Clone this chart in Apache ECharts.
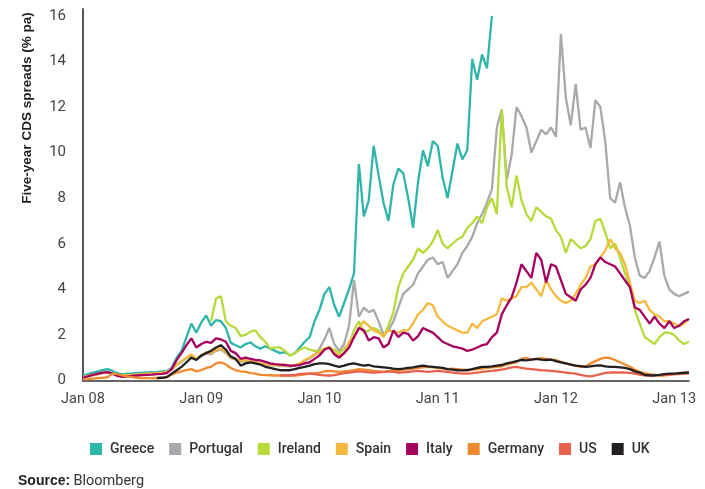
<!DOCTYPE html>
<html>
<head>
<meta charset="utf-8">
<script src="https://cdn.jsdelivr.net/npm/echarts@6/dist/echarts.min.js"></script>
<style>
  html, body { margin: 0; padding: 0; background: #fff; }
  #chart { width: 705px; height: 489px; }
</style>
</head>
<body>
<div id="chart"></div>
<script>
// Five-year sovereign CDS spreads, % per annum, sampled on the 1st and 16th of each month
// from Jan 2008 to Feb 2013.
const seriesNames = ['Greece', 'Portugal', 'Ireland', 'Spain', 'Italy', 'Germany', 'US', 'UK'];
const seriesColors = ['#2fb5a9', '#a8a8ad', '#b6da3a', '#f5ba3d', '#a6005f', '#ef8a2f', '#e9614d', '#231f20'];
const yTicks = [0, 2, 4, 6, 8, 10, 12, 14, 16];

// sample dates: 1st and 16th of each month, Jan 2008 - Feb 2013
const dates = [];
for (let y = 2008; y <= 2013; y++) {
  for (let m = 1; m <= 12; m++) {
    if (y === 2013 && m > 2) break;
    const mm = String(m).padStart(2, '0');
    dates.push(y + '-' + mm + '-01', y + '-' + mm + '-16');
  }
}

// series that begin later are padded with leading gaps
function startingAt(n, vals) { return new Array(n).fill(null).concat(vals); }

const greece = [
  0.22,0.28,0.35,0.40,0.46,0.50,0.42,0.32,0.27,0.30,
  0.31,0.33,0.34,0.36,0.37,0.38,0.40,0.42,0.55,1.00,
  1.30,1.90,2.50,2.10,2.55,2.85,2.40,2.65,2.60,2.30,
  1.65,1.55,1.45,1.60,1.67,1.50,1.40,1.50,1.40,1.30,
  1.20,1.25,1.10,1.20,1.45,1.70,1.90,2.60,3.10,3.80,
  4.10,3.30,2.80,3.40,4.00,4.70,9.50,7.20,7.90,10.30,
  9.00,7.80,7.00,8.60,9.30,9.10,8.00,6.70,8.70,10.10,
  9.40,10.50,10.30,8.90,8.00,9.20,10.40,9.70,10.10,14.10,
  13.20,14.30,13.70,16.00
];
const portugal = [
  0.15,0.20,0.24,0.27,0.32,0.34,0.29,0.24,0.21,0.23,
  0.24,0.26,0.27,0.29,0.30,0.32,0.34,0.37,0.48,0.68,
  0.82,0.98,1.12,0.92,1.05,1.20,1.15,1.30,1.35,1.20,
  0.98,0.92,0.82,0.86,0.82,0.78,0.73,0.70,0.68,0.66,
  0.63,0.64,0.61,0.66,0.72,0.86,0.98,1.12,1.40,1.80,
  2.30,1.60,1.30,1.60,2.40,4.40,2.80,3.20,3.00,3.10,
  2.60,2.00,2.20,2.60,3.20,3.80,4.00,4.20,4.70,5.00,
  5.30,5.40,5.10,5.20,4.50,4.80,5.10,5.60,5.90,6.30,
  6.90,7.30,7.80,8.40,11.10,11.90,8.80,9.90,12.00,11.60,
  11.10,10.00,10.50,11.00,10.80,11.10,10.70,15.20,12.40,11.20,
  13.00,11.00,11.10,10.20,12.30,12.00,10.50,8.00,7.80,8.70,
  7.60,6.80,5.40,4.60,4.50,4.80,5.40,6.10,4.60,4.00,
  3.80,3.70,3.80,3.90
];
const ireland = startingAt(26, [
  2.60,3.60,3.70,2.60,2.40,2.30,1.95,2.00,2.15,2.20,
  1.90,1.70,1.40,1.45,1.45,1.30,1.10,1.20,1.35,1.45,
  1.35,1.30,1.30,1.40,1.45,1.35,1.20,1.40,1.60,2.20,
  2.60,2.10,2.20,2.30,2.20,1.90,2.40,3.00,4.10,4.70,
  5.00,5.30,5.80,5.60,5.80,6.10,6.60,6.00,5.80,6.00,
  6.20,6.30,6.70,6.90,7.20,6.90,7.60,8.00,7.30,11.90,
  8.50,7.60,9.00,7.90,7.30,7.00,7.60,7.40,7.20,7.10,
  6.60,6.30,5.60,6.20,6.00,5.80,5.90,6.20,7.00,7.10,
  6.50,5.80,6.00,5.40,4.70,4.20,3.10,2.50,1.90,1.75,
  1.60,1.90,2.10,2.10,2.00,1.75,1.60,1.70
]);
const spain = [
  0.15,0.20,0.25,0.28,0.33,0.35,0.30,0.25,0.22,0.24,
  0.25,0.27,0.28,0.30,0.31,0.33,0.35,0.38,0.50,0.70,
  0.85,1.00,1.15,0.95,1.10,1.25,1.20,1.35,1.40,1.25,
  1.00,0.95,0.85,0.90,0.85,0.80,0.75,0.72,0.70,0.68,
  0.65,0.66,0.63,0.68,0.75,0.90,1.00,1.15,1.20,1.40,
  1.45,1.20,1.10,1.20,1.70,1.90,2.30,2.60,2.40,2.20,
  2.10,1.95,2.20,2.15,2.10,2.20,2.20,2.50,2.90,3.10,
  3.40,3.30,2.80,2.60,2.40,2.30,2.20,2.10,2.10,2.50,
  2.30,2.60,2.70,2.80,2.90,3.60,3.50,3.60,3.70,4.10,
  4.10,4.30,4.00,3.70,4.40,4.00,3.70,3.50,3.40,3.50,
  3.80,4.20,4.50,5.00,5.10,5.40,5.70,6.20,5.80,5.60,
  5.10,4.30,3.50,3.40,3.50,3.10,2.90,2.80,2.60,2.60,
  2.50,2.40,2.50,2.70
];
const italy = [
  0.12,0.18,0.25,0.30,0.35,0.37,0.30,0.20,0.16,0.18,
  0.20,0.22,0.24,0.25,0.26,0.28,0.29,0.32,0.50,0.90,
  1.20,1.55,1.85,1.45,1.60,1.70,1.65,1.85,1.80,1.70,
  1.30,1.20,0.95,1.00,0.95,0.90,0.88,0.82,0.75,0.72,
  0.70,0.68,0.65,0.65,0.68,0.75,0.80,0.95,1.10,1.35,
  1.45,1.15,1.00,1.20,1.45,1.90,2.30,2.20,1.75,1.90,
  1.85,1.45,1.60,2.20,1.90,2.10,2.05,1.75,1.95,2.30,
  2.20,2.10,1.90,1.70,1.60,1.50,1.45,1.40,1.30,1.35,
  1.45,1.55,1.60,1.90,2.10,2.90,3.30,3.65,4.30,5.10,
  4.80,4.50,5.60,5.30,4.30,5.10,5.00,4.40,3.80,3.65,
  3.50,4.00,4.20,4.50,5.10,5.40,5.20,5.10,5.00,4.70,
  4.40,4.10,3.20,3.10,2.80,2.50,2.80,2.50,2.30,2.60,
  2.30,2.40,2.60,2.70
];
const germany = [
  0.05,0.06,0.08,0.10,0.12,0.15,0.30,0.28,0.22,0.18,
  0.15,0.12,0.10,0.10,0.10,0.11,0.12,0.15,0.25,0.35,
  0.40,0.45,0.50,0.40,0.45,0.55,0.60,0.75,0.80,0.70,
  0.55,0.45,0.40,0.38,0.32,0.30,0.25,0.24,0.23,0.22,
  0.22,0.21,0.20,0.21,0.24,0.27,0.30,0.32,0.35,0.40,
  0.42,0.40,0.38,0.40,0.42,0.45,0.50,0.48,0.45,0.42,
  0.40,0.38,0.40,0.45,0.45,0.48,0.50,0.52,0.55,0.58,
  0.60,0.58,0.55,0.52,0.50,0.52,0.50,0.48,0.45,0.48,
  0.50,0.52,0.55,0.58,0.60,0.62,0.70,0.75,0.80,0.95,
  1.00,0.92,0.95,0.98,0.95,0.92,0.90,0.82,0.75,0.70,
  0.65,0.60,0.62,0.75,0.85,0.95,1.00,0.98,0.90,0.80,
  0.70,0.60,0.48,0.38,0.32,0.28,0.25,0.22,0.22,0.25,
  0.28,0.30,0.32,0.35
];
const us = startingAt(40, [
  0.22,0.24,0.23,0.25,0.28,0.30,0.30,0.28,0.25,0.23,
  0.22,0.24,0.28,0.32,0.35,0.38,0.40,0.38,0.36,0.35,
  0.36,0.38,0.40,0.38,0.35,0.36,0.38,0.40,0.42,0.40,
  0.38,0.40,0.42,0.40,0.38,0.35,0.32,0.30,0.30,0.32,
  0.35,0.38,0.40,0.42,0.45,0.48,0.52,0.58,0.60,0.55,
  0.52,0.50,0.48,0.45,0.44,0.42,0.40,0.38,0.35,0.32,
  0.30,0.25,0.20,0.18,0.22,0.28,0.33,0.35,0.36,0.35,
  0.35,0.33,0.30,0.26,0.22,0.22,0.22,0.24,0.25,0.26,
  0.28,0.28,0.30,0.30
]);
const uk = startingAt(15, [
  0.10,0.12,0.15,0.30,0.45,0.60,0.80,1.00,0.90,1.10,
  1.20,1.30,1.45,1.55,1.35,1.05,0.95,0.65,0.75,0.80,
  0.75,0.70,0.60,0.55,0.50,0.45,0.45,0.45,0.50,0.55,
  0.60,0.65,0.72,0.75,0.75,0.72,0.65,0.60,0.65,0.72,
  0.75,0.70,0.65,0.68,0.62,0.60,0.58,0.55,0.52,0.50,
  0.52,0.55,0.58,0.62,0.65,0.62,0.60,0.58,0.55,0.50,
  0.48,0.45,0.44,0.46,0.50,0.55,0.60,0.60,0.62,0.65,
  0.68,0.75,0.80,0.85,0.90,0.88,0.92,0.95,0.92,0.90,
  0.92,0.85,0.80,0.75,0.70,0.65,0.63,0.60,0.62,0.65,
  0.66,0.62,0.60,0.60,0.58,0.55,0.50,0.40,0.35,0.25,
  0.22,0.23,0.25,0.28,0.30,0.30,0.32,0.34,0.35
]);

const seriesValues = [greece, portugal, ireland, spain, italy, germany, us, uk];

const FONT = 'Roboto, "Liberation Sans", sans-serif';
const chart = echarts.init(document.getElementById('chart'), null, { renderer: 'canvas' });

chart.setOption({
  animation: false,
  backgroundColor: '#ffffff',
  color: seriesColors,
  grid: { left: 83, right: 16, top: 9, bottom: 108.5, containLabel: false },
  legend: {
    data: seriesNames,
    left: 85,
    top: 437,
    icon: 'rect',
    itemWidth: 12,
    itemHeight: 12,
    itemGap: 15,
    textStyle: { fontFamily: FONT, fontSize: 14, fontWeight: 500, color: '#333', padding: [0, 0, 0, 3] }
  },
  xAxis: {
    type: 'category',
    data: dates,
    boundaryGap: false,
    axisLine: { lineStyle: { color: '#333', width: 1.5 } },
    axisTick: { show: false },
    splitLine: { show: false },
    axisLabel: {
      interval: (idx, val) => val.endsWith('-01-01'),
      formatter: (val) => 'Jan ' + val.slice(2, 4),
      fontFamily: FONT,
      fontSize: 14.5,
      color: '#444',
      margin: 11,
      hideOverlap: false
    }
  },
  yAxis: {
    type: 'value',
    min: 0,
    max: 16.3,
    interval: 2,
    axisLine: { show: true, lineStyle: { color: '#555', width: 2 } },
    axisTick: { show: false },
    splitLine: { show: false },
    axisLabel: {
      formatter: (v) => (yTicks.indexOf(v) >= 0 ? String(v) : ''),
      fontFamily: FONT,
      fontSize: 15,
      color: '#444',
      margin: 17
    }
  },
  series: seriesNames.map((name, k) => ({
    name: name,
    type: 'line',
    data: seriesValues[k],
    showSymbol: false,
    symbol: 'none',
    connectNulls: false,
    lineStyle: { width: 2.3, color: seriesColors[k] },
    itemStyle: { color: seriesColors[k] },
    emphasis: { disabled: true }
  })),
  graphic: [
    {
      type: 'text',
      x: 27,
      y: 108,
      rotation: Math.PI / 2,
      style: {
        text: 'Five-year CDS spreads (% pa)',
        font: 'bold 13.5px "Liberation Sans", Arial, sans-serif',
        fill: '#222',
        textAlign: 'center',
        textVerticalAlign: 'middle'
      }
    },
    {
      type: 'text',
      left: 18,
      top: 474,
      style: {
        text: '{b|Source:} {n|Bloomberg}',
        rich: {
          b: { font: 'bold 14px "Liberation Sans", Arial, sans-serif', fill: '#222' },
          n: { fontFamily: FONT, fontSize: 14.5, fill: '#333' }
        }
      }
    }
  ]
});
</script>
</body>
</html>
